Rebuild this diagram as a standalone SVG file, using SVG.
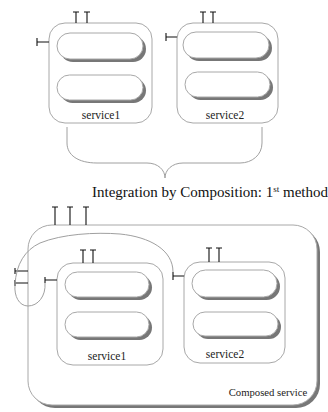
<svg xmlns="http://www.w3.org/2000/svg" width="328" height="412" viewBox="0 0 328 412">
<style>
.box{fill:#fff;stroke:#a8a8a8;stroke-width:1}
.shadow{fill:#777;stroke:none}
.pill{fill:#fff;stroke:#a8a8a8;stroke-width:1}
.ifc{fill:none;stroke:#111;stroke-width:1.1}
.wire{fill:none;stroke:#a0a0a0;stroke-width:1}
.lbl{font-size:11.5px;fill:#222;text-anchor:middle}
.title{font-size:15px;fill:#111}
</style>
<rect width="328" height="412" fill="#fff"/>

<g id="composed">
  <rect class="shadow" x="31" y="228" width="289" height="180" rx="24"/>
  <rect class="box" x="28" y="225" width="289" height="180" rx="24"/>
  <text class="lbl" x="268" y="396" font-family="'Liberation Serif', 'DejaVu Serif', serif" style="font-size:10.7px">Composed service</text>
  <path class="ifc" d="M55,207V225M52,207H58M70,207V225M67,207H73M86,207V225M83,207H89"/>
  <path class="ifc" d="M15,268V274M15,271H28M15,280V286M15,283H28"/>
</g>

<g id="top-service1">
  <rect class="box" x="49" y="23" width="103" height="100" rx="16"/>
  <rect class="shadow" x="60" y="36" width="86" height="26" rx="13"/>
  <rect class="pill" x="57" y="33" width="86" height="26" rx="13"/>
  <rect class="shadow" x="60" y="78" width="86" height="25" rx="12.5"/>
  <rect class="pill" x="57" y="75" width="86" height="25" rx="12.5"/>
  <text class="lbl" x="101" y="119" font-family="'Liberation Serif', 'DejaVu Serif', serif">service1</text>
  <path class="ifc" d="M76,12V23M73,12H79M87,12V23M84,12H90"/>
  <path class="ifc" d="M37,38V46M37,42H49"/>
</g>

<g id="top-service2">
  <rect class="box" x="177" y="23" width="101" height="100" rx="16"/>
  <rect class="shadow" x="186" y="35" width="86" height="26" rx="13"/>
  <rect class="pill" x="183" y="32" width="86" height="26" rx="13"/>
  <rect class="shadow" x="188" y="75" width="85" height="25" rx="12.5"/>
  <rect class="pill" x="185" y="72" width="85" height="25" rx="12.5"/>
  <text class="lbl" x="225" y="119" font-family="'Liberation Serif', 'DejaVu Serif', serif">service2</text>
  <path class="ifc" d="M203,12V23M200,12H206M213,12V23M210,12H216"/>
  <path class="ifc" d="M166,33V41M166,37H177"/>
</g>

<g id="bottom-service1">
  <rect class="box" x="57" y="263" width="106" height="102" rx="16"/>
  <rect class="shadow" x="68" y="275" width="84" height="25" rx="12.5"/>
  <rect class="pill" x="65" y="272" width="84" height="25" rx="12.5"/>
  <rect class="shadow" x="68" y="315" width="84" height="25" rx="12.5"/>
  <rect class="pill" x="65" y="312" width="84" height="25" rx="12.5"/>
  <text class="lbl" x="107" y="360" font-family="'Liberation Serif', 'DejaVu Serif', serif">service1</text>
  <path class="ifc" d="M83,250V263M80,250H86M93,250V263M90,250H96"/>
  <path class="ifc" d="M45,277V283M45,280H57"/>
</g>

<g id="bottom-service2">
  <rect class="box" x="184" y="262" width="101" height="101" rx="16"/>
  <rect class="shadow" x="195" y="273" width="85" height="27" rx="13.5"/>
  <rect class="pill" x="192" y="270" width="85" height="27" rx="13.5"/>
  <rect class="shadow" x="196" y="315" width="85" height="24" rx="12"/>
  <rect class="pill" x="193" y="312" width="85" height="24" rx="12"/>
  <text class="lbl" x="225" y="358" font-family="'Liberation Serif', 'DejaVu Serif', serif">service2</text>
  <path class="ifc" d="M209,248V262M206,248H212M219,248V262M216,248H222"/>
  <path class="ifc" d="M173,272V280M173,276H184"/>
</g>

<g id="connectors">
  <path class="wire" d="M67,127V143C67,155 78,163 97,163H147C158,163 165,170 165,178C165,170 172,163 183,163H240C252,163 262,155 262,143V127"/>
  <path class="wire" d="M45,283C46,296 38,306 28,306C19,306 14,296 15,285C16,264 25,250 40,243C62,234 95,232 120,234C150,237 173,250 173,272"/>
</g>

<text class="title" x="92" y="197" font-family="'Liberation Serif', 'DejaVu Serif', serif">Integration by Composition: 1<tspan dy="-5" style="font-size:9px">st</tspan><tspan dy="5"> method</tspan></text>
</svg>
